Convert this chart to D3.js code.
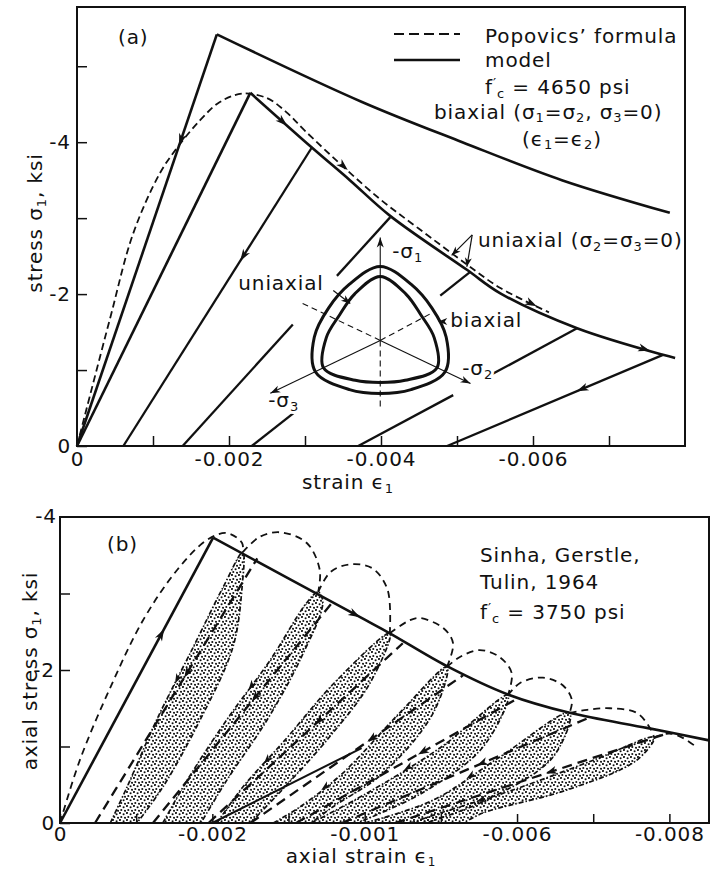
<!DOCTYPE html>
<html><head><meta charset="utf-8">
<script src="https://cdn.jsdelivr.net/npm/d3@7"></script>
<style>
body{margin:0;background:#fff}
svg{display:block}
text{font-family:"DejaVu Sans",sans-serif;fill:#111;font-size:20px;letter-spacing:0.9px}
</style></head><body>
<svg id="c" width="725" height="869"></svg>
<script>
// ===== DATA (strain magnitude in units of 0.001, stress magnitude in ksi; both plotted as negative) =====
// Panel (a)
const aXTickValues = [0,1,2,3,4,5,6,7];
const aXTickLabels = {0:"0",2:"-0.002",4:"-0.004",6:"-0.006"};
const aYTickValues = [0,1,2,3,4,5];
const aYTickLabels = {0:"0",2:"-2",4:"-4"};
const biaxialLoad = [[0,0],[1.84,5.42]];
const biaxialSoft = [[1.84,5.42],[3.75,4.53],[5.07,4.0],[6.38,3.5],[7.80,3.07]];
const uniaxialLoad = [[0,0],[2.28,4.65]];
const uniaxialSoft = [[2.28,4.65],[3.09,3.93],[3.59,3.50],[4.12,3.03],[5.13,2.32],[5.57,2.01],[6.58,1.55],[7.71,1.20],[7.87,1.16]];
const popovics = [[0,0],[0.43,1.66],[0.74,2.80],[1.09,3.59],[1.32,3.93],[1.62,4.29],[1.88,4.53],[2.18,4.64],[2.5,4.58],[2.75,4.40],[3.0,4.15],[3.5,3.68],[4.0,3.24],[4.5,2.86],[5.13,2.39],[5.57,2.08],[6.21,1.76]];
const unloadA = [
  [[3.09,3.93],[0.61,0]],
  [[4.12,3.01],[3.42,2.24]], [[2.84,1.60],[1.39,0]],
  [[5.17,2.29],[4.78,1.98]], [[2.87,0.45],[2.30,0]],
  [[6.58,1.55],[5.47,0.95]], [[4.95,0.67],[3.70,0]],
  [[7.71,1.20],[4.87,0]]
];
const arrowsA = [ // [from, to, fraction]
  [[1.84,5.42],[0,0],0.27],
  [[2.28,4.65],[3.09,3.93],0.6],
  [[3.0,4.15],[3.75,3.46],0.75],
  [[5.57,2.08],[6.21,1.76],0.75],
  [[6.58,1.55],[7.71,1.20],0.85],
  [[3.09,3.93],[0.61,0],0.38],
  [[7.71,1.20],[4.87,0],0.4]
];
// inset (deviatoric section) : angles (deg) and radii (px)
const insetAngles = [90,119,148,177,206,238,270,302,334,3,32,61];
const insetOuterR = [74,64,61,66,72,58,53,58,72,66,61,64];
const insetInnerR = [64,53,48,54,63,47,42,47,63,54,48,53];
const insetCenter = [3.99,1.39];

// Panel (b)
const bXTickValues = [0,1,2,3,4,5,6,7,8];
const bXTickLabels = {0:"0",2:"-0.002",4:"-0.001",6:"-0.006",8:"-0.008"};
const bYTickValues = [0,1,2,3];
const bYTickLabels = {0:"0",2:"-2"};
const bLoad = [[0,0],[2.01,3.73]];
const bEnvelope = [[2.01,3.73],[3.94,2.69],[4.33,2.48],[5.08,2.05],[5.88,1.68],[6.69,1.44],[7.72,1.24],[8.52,1.08]];
const bBubbles = [
  [[0,0],[0.26,0.82],[0.66,1.77],[1.09,2.65],[1.54,3.31],[1.93,3.70],[2.19,3.79],[2.39,3.66],[2.40,3.54]],
  [[2.40,3.54],[2.62,3.74],[2.89,3.80],[3.24,3.66],[3.41,3.31],[3.39,3.02]],
  [[3.39,3.02],[3.55,3.28],[3.8,3.38],[4.1,3.33],[4.3,3.05],[4.33,2.48]],
  [[4.33,2.48],[4.59,2.65],[4.72,2.68],[5.03,2.55],[5.16,2.35],[5.08,2.04]],
  [[5.08,2.04],[5.25,2.17],[5.51,2.26],[5.77,2.17],[5.93,1.96],[5.88,1.67]],
  [[5.88,1.67],[6.04,1.83],[6.34,1.90],[6.6,1.80],[6.72,1.61],[6.69,1.44]],
  [[6.69,1.44],[6.92,1.48],[7.22,1.50],[7.57,1.44],[7.74,1.25],[7.8,1.12]],
  [[7.8,1.12],[8.0,1.17],[8.2,1.10],[8.37,0.98]]
];
const loopLeft = [
  [[0.66,0],[0.88,0.47],[1.27,1.35],[1.75,2.30],[2.14,3.08],[2.40,3.54]],
  [[1.35,0],[1.67,0.56],[2.19,1.35],[2.76,2.13],[3.24,2.88],[3.39,3.02]],
  [[2.06,0],[2.40,0.47],[2.95,1.08],[3.60,1.83],[4.33,2.48]],
  [[2.80,0],[3.15,0.21],[3.71,0.65],[4.46,1.44],[5.08,2.04]],
  [[3.30,0],[4.03,0.39],[5.00,0.99],[5.88,1.67]],
  [[4.00,0],[4.90,0.30],[5.77,0.86],[6.69,1.44]],
  [[4.60,0],[4.99,0.13],[5.94,0.43],[7.00,0.82],[7.80,1.12]]
];
const loopRight = [
  [[1.01,0],[1.35,0.47],[1.84,1.35],[2.27,2.30],[2.39,3.08],[2.40,3.54]],
  [[1.85,0],[2.19,0.56],[2.72,1.35],[3.15,2.13],[3.45,2.88],[3.39,3.02]],
  [[2.50,0],[2.95,0.47],[3.50,1.08],[4.07,1.83],[4.33,2.48]],
  [[3.30,0],[3.58,0.21],[4.24,0.65],[4.90,1.44],[5.08,2.04]],
  [[3.90,0],[4.75,0.39],[5.55,0.99],[5.88,1.67]],
  [[4.80,0],[5.60,0.30],[6.47,0.86],[6.69,1.44]],
  [[5.30,0],[5.55,0.13],[6.65,0.43],[7.57,0.82],[7.80,1.12]]
];
const modelLinesB = [
  [[0.46,0],[2.59,3.46]],
  [[1.22,0],[3.58,2.89]],
  [[1.95,0],[4.50,2.35]],
  [[2.50,0],[5.29,1.93]],
  [[3.10,0],[6.01,1.63]],
  [[3.70,0],[6.93,1.37]],
  [[4.40,0],[8.00,1.18]]
];
const solidB = [[2.0,0],[3.96,0.98]];

// ===== DRAWING =====
const svg = d3.select("#c");
const defs = svg.append("defs");
const pat = defs.append("pattern").attr("id","dots").attr("width",7).attr("height",7).attr("patternUnits","userSpaceOnUse");
[[1,1],[4.6,2.3],[2.3,5.0],[6.0,5.8]].forEach(p=>pat.append("circle").attr("cx",p[0]).attr("cy",p[1]).attr("r",1.05).attr("fill","#111"));

function rich(g, x, y, parts, attrs) {
  const t = g.append("text").attr("x",x).attr("y",y);
  if (attrs) for (const k in attrs) t.attr(k, attrs[k]);
  let cur = 0;
  parts.forEach(p => {
    const arr = typeof p === "string" ? [p] : p;
    const [s, shift=0, size=null, dx=0] = arr;
    const ts = t.append("tspan").text(s).attr("dy", shift-cur);
    if (size) ts.style("font-size", size+"px");
    if (dx) ts.attr("dx", dx);
    cur = shift;
  });
  return t;
}
function arrowHead(g, p0, p1, t, len=12, half=4) {
  const x = p0[0]+(p1[0]-p0[0])*t, y = p0[1]+(p1[1]-p0[1])*t;
  const ang = Math.atan2(p1[1]-p0[1], p1[0]-p0[0])*180/Math.PI;
  g.append("path").attr("d",`M0,0 L${-len},${-half} L${-len*0.72},0 L${-len},${half} Z`)
    .attr("transform",`translate(${x},${y}) rotate(${ang})`).attr("fill","#111");
}
function axisStyle(g){
  g.select(".domain").remove();
  g.selectAll(".tick line").attr("stroke","#111").attr("stroke-width",1.5);
  g.selectAll(".tick text").style("font-size","20px").attr("fill","#111");
}
function sty(sel, o){ for(const k in o) sel.attr(k,o[k]); return sel; }

// ---------- Panel (a) ----------
const xa = d3.scaleLinear().domain([0,8.0]).range([77,685]);
const ya = d3.scaleLinear().domain([0,5.78]).range([446,7]);
const ga = svg.append("g");
const la = d3.line().x(d=>xa(d[0])).y(d=>ya(d[1]));
const lac = d3.line().x(d=>xa(d[0])).y(d=>ya(d[1])).curve(d3.curveCatmullRom.alpha(0.5));
const P = d=>[xa(d[0]),ya(d[1])];

ga.append("g").attr("transform","translate(0,446)")
  .call(d3.axisBottom(xa).tickValues(aXTickValues).tickSize(-10).tickPadding(6).tickFormat(d=>aXTickLabels[d]||""))
  .call(axisStyle);
ga.append("g").attr("transform","translate(77,0)")
  .call(d3.axisLeft(ya).tickValues(aYTickValues).tickSize(-10).tickPadding(6).tickFormat(d=>aYTickLabels[d]||""))
  .call(axisStyle);
ga.append("rect").attr("x",77).attr("y",7).attr("width",608).attr("height",439).attr("fill","none").attr("stroke","#111").attr("stroke-width",2);

const solidA = {fill:"none",stroke:"#111","stroke-width":2.6,"stroke-linejoin":"miter"};
sty(ga.append("path").attr("d",la(biaxialLoad)), solidA);
sty(ga.append("path").attr("d",lac(biaxialSoft)), solidA);
sty(ga.append("path").attr("d",la(uniaxialLoad)), solidA);
sty(ga.append("path").attr("d",lac(uniaxialSoft)), solidA);
ga.append("path").attr("d",lac(popovics)).attr("fill","none").attr("stroke","#111").attr("stroke-width",1.8).attr("stroke-dasharray","7,4");
unloadA.forEach(s=>sty(ga.append("path").attr("d",la(s)), {fill:"none",stroke:"#111","stroke-width":2.3}));
arrowsA.forEach(a=>arrowHead(ga, P(a[0]), P(a[1]), a[2]));

// inset
const ic = P(insetCenter);
const ig = ga.append("g").attr("transform",`translate(${ic[0]},${ic[1]})`);
const polar = (r,a)=>[r*Math.cos(a*Math.PI/180), -r*Math.sin(a*Math.PI/180)];
const closed = d3.line().curve(d3.curveCatmullRomClosed.alpha(0.5));
ig.append("path").attr("d",closed(insetAngles.map((a,i)=>polar(insetOuterR[i],a)))).attr("fill","#fff").attr("stroke","#111").attr("stroke-width",3);
ig.append("path").attr("d",closed(insetAngles.map((a,i)=>polar(insetInnerR[i],a)))).attr("fill","none").attr("stroke","#111").attr("stroke-width",3);
const axLines = [[90,103,false],[-25.5,100,false],[205.7,122,false],[270,70,true],[154.5,86,true],[28,57,true]];
axLines.forEach(([a,r,dash])=>{
  const e = polar(r,a);
  const l = ig.append("line").attr("x1",0).attr("y1",0).attr("x2",e[0]).attr("y2",e[1]).attr("stroke","#111").attr("stroke-width",1.1);
  if (dash) l.attr("stroke-dasharray","6,4"); else arrowHead(ig,[0,0],e,1,10,3.5);
});
const halo = {"paint-order":"stroke",stroke:"#fff","stroke-width":6,"stroke-linejoin":"round"};
sty(rich(ig,12,-82,["-σ",["1",4,13]]),halo);
sty(rich(ig,82,35,["-σ",["2",4,13]]),halo);
sty(rich(ig,-112,67,["-σ",["3",4,13]]),halo);
sty(rich(ig,-142,-50,["uniaxial"]),halo);
ig.append("line").attr("x1",-47).attr("y1",-50).attr("x2",-30).attr("y2",-37).attr("stroke","#111").attr("stroke-width",1.2);
arrowHead(ig,[-47,-50],[-30,-37],1,9,3.5);
sty(rich(ig,70,-13,["biaxial"]),halo);
arrowHead(ig,[72,-19],[58,-19],1,9,3.5);

// label: uniaxial (σ2=σ3=0)
const ua0 = P([5.20,2.78]);
rich(ga, 478, 247, ["uniaxial (σ",["2",4,13],"=σ",["3",4,13],"=0)"]);
[[4.93,2.51],[5.13,2.36]].forEach(d=>{
  const e = P(d);
  ga.append("line").attr("x1",ua0[0]).attr("y1",ua0[1]).attr("x2",e[0]).attr("y2",e[1]).attr("stroke","#111").attr("stroke-width",1.2);
  arrowHead(ga, ua0, e, 1, 9, 3.5);
});

// legend and notes
ga.append("line").attr("x1",394).attr("x2",460).attr("y1",34).attr("y2",34).attr("stroke","#111").attr("stroke-width",2).attr("stroke-dasharray","10,5");
ga.append("line").attr("x1",394).attr("x2",460).attr("y1",60).attr("y2",60).attr("stroke","#111").attr("stroke-width",2.6);
rich(ga,485,43,["Popovics’ formula"]);
rich(ga,485,67,["model"]);
rich(ga,485,94,["f",["′",-6,14],["c",4,13],[" = 4650 psi",0]]);
rich(ga,434,119,["biaxial (σ",["1",3,13],"=σ",["2",3,13],", σ",["3",3,13],"=0)"]);
rich(ga,522,146,["(ϵ",["1",3,13],"=ϵ",["2",3,13],")"]);
rich(ga,118,44,["(a)"]);
rich(ga,348,489,["strain ϵ",["1",4,13]],{"text-anchor":"middle"});
rich(ga,0,0,["stress σ",["1",4,13],", ksi"],{"text-anchor":"middle",transform:"translate(42,223) rotate(-90)"});

// ---------- Panel (b) ----------
const xb = d3.scaleLinear().domain([0,8.52]).range([60,709]);
const yb = d3.scaleLinear().domain([0,4]).range([823,517]);
const gb = svg.append("g");
const lb = d3.line().x(d=>xb(d[0])).y(d=>yb(d[1]));
const lbc = d3.line().x(d=>xb(d[0])).y(d=>yb(d[1])).curve(d3.curveCatmullRom.alpha(0.5));
const Q = d=>[xb(d[0]),yb(d[1])];

gb.append("g").attr("transform","translate(0,823)")
  .call(d3.axisBottom(xb).tickValues(bXTickValues).tickSize(-9).tickPadding(4).tickFormat(d=>bXTickLabels[d]||""))
  .call(axisStyle);
gb.append("g").attr("transform","translate(60,0)")
  .call(d3.axisLeft(yb).tickValues(bYTickValues).tickSize(-10).tickPadding(5).tickFormat(d=>bYTickLabels[d]||""))
  .call(axisStyle);
gb.append("text").attr("x",57).attr("y",yb(4)).attr("dy","0.32em").attr("text-anchor","end").text("-4");
gb.append("rect").attr("x",60).attr("y",517).attr("width",649).attr("height",306).attr("fill","none").attr("stroke","#111").attr("stroke-width",2);

loopLeft.forEach((L,i)=>{
  const R = loopRight[i].slice().reverse();
  gb.append("path").attr("d",lbc(L.concat(R.slice(1))))
    .attr("fill","url(#dots)").attr("stroke","#111").attr("stroke-width",1.7).attr("stroke-dasharray","5,2,1.5,2");
  const k = Math.floor(L.length/2);
  arrowHead(gb, Q(L[k]), Q(L[k-1]), 0.5, 10, 3.5);
});
modelLinesB.forEach(s=>{
  gb.append("path").attr("d",lb(s)).attr("fill","none").attr("stroke","#111").attr("stroke-width",2.3).attr("stroke-dasharray","10,6");
  arrowHead(gb, Q(s[1]), Q(s[0]), 0.45, 11, 4);
});
gb.append("path").attr("d",lb(solidB)).attr("fill","none").attr("stroke","#111").attr("stroke-width",2);
bBubbles.forEach(b=>gb.append("path").attr("d",lbc(b)).attr("fill","none").attr("stroke","#111").attr("stroke-width",1.8).attr("stroke-dasharray","7,5"));
gb.append("path").attr("d",lb(bLoad)).attr("fill","none").attr("stroke","#111").attr("stroke-width",2.6);
gb.append("path").attr("d",lbc(bEnvelope)).attr("fill","none").attr("stroke","#111").attr("stroke-width",2.6);
arrowHead(gb, Q(bLoad[0]), Q(bLoad[1]), 0.68);
arrowHead(gb, Q(bEnvelope[0]), Q(bEnvelope[1]), 1.0);

rich(gb,107,551,["(b)"]);
rich(gb,480,562,["Sinha, Gerstle,"]);
rich(gb,480,589,["Tulin, 1964"]);
rich(gb,480,619,["f",["′",-6,14],["c",4,13],[" = 3750 psi",0]]);
rich(gb,361,863,["axial strain ϵ",["1",3,12]],{"text-anchor":"middle"});
rich(gb,0,0,["axial stress σ",["1",4,13],", ksi"],{"text-anchor":"middle",transform:"translate(37,671) rotate(-90)"});
</script>
</body></html>
